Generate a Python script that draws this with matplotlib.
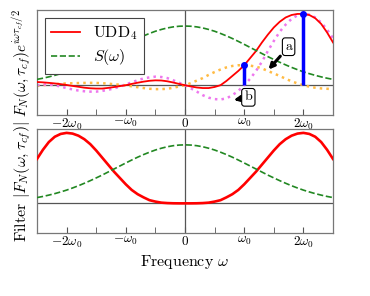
import numpy as np
import matplotlib
matplotlib.use("Agg")
import matplotlib.pyplot as plt
from matplotlib.ticker import MultipleLocator

plt.rcParams['mathtext.fontset'] = 'cm'
plt.rcParams['font.family'] = ['cmr10', 'DejaVu Serif']
plt.rcParams['axes.unicode_minus'] = False

# frequency grid in units of omega_0
omega = np.linspace(-2.5, 2.5, 51)

# top panel: F_N e^{i w t/2} (real part) and its pieces
udd_top = [0.045, 0.04, 0.033, 0.025, 0.015, 0.003, -0.01, -0.022, -0.035, -0.043,
           -0.047, -0.047, -0.038, -0.026, -0.013, 0.0, 0.018, 0.035, 0.05, 0.062,
           0.068, 0.066, 0.055, 0.038, 0.018, 0.0, -0.018, -0.032, -0.04, -0.04,
           -0.025, 0.0, 0.06, 0.13, 0.2, 0.28, 0.38, 0.48, 0.6, 0.71,
           0.81, 0.89, 0.95, 0.985, 1.0, 1.0, 0.985, 0.94, 0.86, 0.74, 0.6]
magenta_top = [0.0, 0.01, 0.01, 0.0, -0.02, -0.04, -0.06, -0.075, -0.085, -0.09,
               -0.09, -0.08, -0.065, -0.045, -0.02, 0.01, 0.04, 0.07, 0.095, 0.11,
               0.12, 0.115, 0.1, 0.07, 0.035, 0.0, -0.045, -0.09, -0.14, -0.175,
               -0.195, -0.2, -0.185, -0.14, -0.08, 0.0, 0.09, 0.2, 0.33, 0.48,
               0.62, 0.75, 0.85, 0.93, 0.98, 1.0, 0.99, 0.95, 0.88, 0.78, 0.66]
orange_top = [-0.01, 0.0, 0.01, 0.015, 0.02, 0.025, 0.028, 0.03, 0.032, 0.033,
              0.032, 0.028, 0.022, 0.014, 0.006, -0.003, -0.015, -0.028, -0.04, -0.05,
              -0.055, -0.055, -0.05, -0.036, -0.018, 0.0, 0.03, 0.065, 0.1, 0.145,
              0.185, 0.22, 0.25, 0.27, 0.28, 0.28, 0.275, 0.26, 0.235, 0.2,
              0.165, 0.13, 0.09, 0.055, 0.025, 0.0, -0.02, -0.035, -0.045, -0.05, -0.055]

# noise spectrum S(w)
spectrum = [0.082, 0.098, 0.117, 0.138, 0.162, 0.188, 0.218, 0.250, 0.285, 0.322,
            0.361, 0.401, 0.444, 0.487, 0.530, 0.573, 0.615, 0.655, 0.692, 0.726,
            0.757, 0.782, 0.803, 0.818, 0.827, 0.830, 0.827, 0.818, 0.803, 0.782,
            0.757, 0.726, 0.692, 0.655, 0.615, 0.573, 0.530, 0.487, 0.444, 0.401,
            0.361, 0.322, 0.285, 0.250, 0.218, 0.188, 0.162, 0.138, 0.117, 0.098, 0.082]

# bottom panel: |F_N|
udd_abs = [0.63, 0.76, 0.87, 0.945, 0.985, 1.0, 0.99, 0.96, 0.91, 0.84,
           0.75, 0.65, 0.55, 0.45, 0.36, 0.27, 0.19, 0.13, 0.085, 0.045,
           0.025, 0.01, 0.004, 0.001, 0.0, 0.0, 0.0, 0.001, 0.004, 0.01,
           0.025, 0.045, 0.085, 0.13, 0.19, 0.27, 0.36, 0.45, 0.55, 0.65,
           0.75, 0.84, 0.91, 0.96, 0.99, 1.0, 0.985, 0.945, 0.87, 0.76, 0.63]

stem_x = [1, 2]
stem_y = [0.28, 1.0]

tick_pos = [-2, -1, 0, 1, 2]
tick_lab = [r'$-2\omega_0$', r'$-\omega_0$', r'$0$', r'$\omega_0$', r'$2\omega_0$']

fig = plt.figure(figsize=(3.7, 2.96), dpi=100)
ax1 = fig.add_axes([0.1, 0.611, 0.8, 0.354])
ax2 = fig.add_axes([0.1, 0.213, 0.8, 0.350])

for ax in (ax1, ax2):
    ax.axhline(0, color='#555555', lw=0.9, zorder=1)
    ax.axvline(0, color='#555555', lw=0.9, zorder=1)
    ax.set_xlim(-2.5, 2.5)
    ax.set_ylim(-0.42, 1.05)
    ax.set_yticks([])
    ax.set_xticks(tick_pos)
    ax.set_xticklabels(tick_lab, fontsize=9.5)
    ax.xaxis.set_minor_locator(MultipleLocator(0.5))
    ax.tick_params(axis='x', which='both', direction='in', length=4, color='#555555', pad=1.5)
    for s in ax.spines.values():
        s.set_color('#777777')
        s.set_linewidth(0.9)

# top panel
ax1.plot(omega, orange_top, ':', color='#ffbb44', lw=1.8, zorder=2)
ax1.plot(omega, magenta_top, ':', color='#ee77ee', lw=1.8, zorder=2)
ax1.plot(omega, udd_top, '-', color='red', lw=1.3, label='UDD$_4$', zorder=3)
ax1.plot(omega, spectrum, '--', color='#228822', lw=1.2, label=r'$S(\omega)$', zorder=3)
ax1.vlines(stem_x, 0, stem_y, color='blue', lw=2.5, zorder=4)
ax1.plot(stem_x, stem_y, 'o', color='blue', ms=4, zorder=5)

box = dict(boxstyle='round,pad=0.2', fc='white', ec='black', lw=0.8)
ax1.annotate('a', xy=(1.38, 0.19), xytext=(1.75, 0.54), fontsize=10,
             ha='center', va='center', bbox=box,
             arrowprops=dict(arrowstyle='-|>', color='black', lw=2.2, mutation_scale=8))
ax1.annotate('b', xy=(0.78, -0.215), xytext=(1.07, -0.17), fontsize=10,
             ha='center', va='center', bbox=box,
             arrowprops=dict(arrowstyle='-|>', color='black', lw=2.2, mutation_scale=8))

leg = ax1.legend(loc='upper left', fancybox=False, edgecolor='#444444',
                 framealpha=1, handlelength=1.8, borderpad=0.4, labelspacing=0.3,
                 fontsize=11.5)
leg.get_frame().set_linewidth(0.8)
ax1.set_ylabel(r'$F_N(\omega,\tau_{cf})e^{i\omega\tau_{cf}/2}$', fontsize=11, labelpad=3)

# bottom panel
ax2.plot(omega, udd_abs, '-', color='red', lw=1.9, zorder=3)
ax2.plot(omega, spectrum, '--', color='#228822', lw=1.2, zorder=3)
ax2.set_ylabel(r'Filter $|F_N(\omega,\tau_{cf})|$', fontsize=11.5, labelpad=3)
ax2.set_xlabel(r'Frequency $\omega$', fontsize=11.5, labelpad=2)

fig.savefig('out.png', dpi=100)
